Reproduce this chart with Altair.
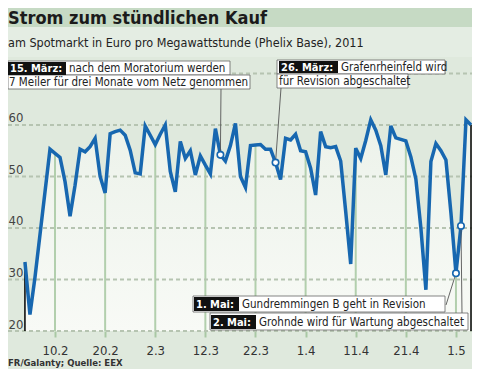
import altair as alt
import pandas as pd

# ---------------- data ----------------
# day 0 = 4. Februar 2011, daily Phelix Base prices (EUR/MWh)
days = list(range(90))
prices = [33.4, 23.2, 30.4, 38.7, 47.0, 55.3, 54.5, 53.7, 49.0, 42.3,
          48.3, 55.3, 54.8, 55.8, 57.4, 50.0, 46.8, 58.3, 58.7, 59.0,
          58.0, 55.1, 50.7, 50.5, 59.8, 58.0, 56.2, 58.2, 60.0, 51.0,
          47.0, 56.8, 53.5, 55.0, 50.3, 54.0, 52.2, 50.5, 59.3, 54.2,
          53.0, 56.0, 60.3, 50.0, 47.9, 56.0, 56.1, 56.2, 55.3, 55.3,
          52.7, 49.4, 57.4, 57.1, 58.2, 55.0, 54.8, 51.6, 46.4, 58.7,
          55.8, 55.6, 55.8, 53.0, 43.2, 33.0, 55.5, 53.5, 57.0, 61.0,
          59.0, 56.0, 50.3, 59.8, 57.5, 57.2, 56.9, 53.8, 49.5, 40.0,
          28.0, 52.9, 56.4, 55.0, 53.2, 42.9, 31.2, 40.4, 61.0, 60.0]
tick_days = [6, 16, 26, 36, 46, 56, 66, 76, 86]
tick_labels = ["10.2", "20.2", "2.3", "12.3", "22.3", "1.4", "11.4", "21.4", "1.5"]
y_label_values = [20, 30, 40, 50, 60]
y_grid_values = [20, 30, 40, 50, 60, 70]
event_days = [39, 50, 86, 87]
event_tags = ["15. März:", "26. März:", "1. Mai:", "2. Mai:"]
event_line1 = ["nach dem Moratorium werden", "Grafenrheinfeld wird",
               "Gundremmingen B geht in Revision", "Grohnde wird für Wartung abgeschaltet"]
event_line2 = ["7 Meiler für drei Monate vom Netz genommen", "für Revision abgeschaltet", "", ""]

title_text = "Strom zum stündlichen Kauf"
subtitle_text = "am Spotmarkt in Euro pro Megawattstunde (Phelix Base), 2011"
source_text = "FR/Galanty; Quelle: EEX"

# ---------------- layout / style ----------------
W, H = 464, 274
PAD_B = 38
FONT = "Liberation Sans Narrow, DejaVu Sans Condensed, sans-serif"
BLUE = "#1767b0"
BG = "#dfe9dd"

xs = alt.Scale(domain=[-3.38, 89.2], nice=False, zero=False)
ys = alt.Scale(domain=[20, 73.2], nice=False, zero=False)

df = pd.DataFrame({"day": days, "price": prices})
df_ticks = df[df.day.isin(tick_days)]
df_events = df[df.day.isin(event_days)]
df_edges = df.iloc[[0, -1]]
df_grid = pd.DataFrame({"v": y_grid_values})

label_expr = "[" + ",".join(f"'{t}'" for t in tick_labels) + "][indexof([" + \
    ",".join(str(d) for d in tick_days) + "], datum.value)]"

x_axis = alt.Axis(values=tick_days, labelExpr=label_expr, grid=False, domain=False,
                  ticks=True, tickSize=6, tickColor="#a9c8a4", tickWidth=2,
                  labelPadding=7, labelFont=FONT, labelFontSize=13, labelColor="#333",
                  title=None)
y_axis = alt.Axis(values=y_label_values, grid=False, domain=False, ticks=False, tickSize=0,
                  labelAlign="left", labelBaseline="alphabetic", labelPadding=0,
                  labelOffset=-3, labelFont=FONT, labelFontSize=13, labelColor="#444",
                  title=None)

X = lambda a=None: alt.X("day:Q", scale=xs, axis=a)
Y = lambda a=None: alt.Y("price:Q", scale=ys, axis=a)

def px(field):
    return alt.X(f"{field}:Q", scale=None, axis=None)

def py(field):
    return alt.Y(f"{field}:Q", scale=None, axis=None)

# header bands
bands = pd.DataFrame({"x0": [0, 0], "x1": [W, W], "y0": [-49, -30], "y1": [-30, 0],
                      "c": ["#c6dac4", "#e4ede3"]})
band_layer = alt.Chart(bands).mark_rect().encode(
    x=px("x0"), x2="x1", y=py("y0"), y2="y1", color=alt.Color("c:N", scale=None))

heads = pd.DataFrame({"x": [0, 0, 0], "y": [-33.5, -10, 309],
                      "t": [title_text, subtitle_text, source_text]})
title_layer = alt.Chart(heads.iloc[[0]]).mark_text(
    align="left", baseline="alphabetic", font=FONT, fontSize=18, fontWeight="bold",
    color="#1b1b1b").encode(x=px("x"), y=py("y"), text="t:N")
sub_layer = alt.Chart(heads.iloc[[1]]).mark_text(
    align="left", baseline="alphabetic", font=FONT, fontSize=12.5,
    color="#222").encode(x=px("x"), y=py("y"), text="t:N")
src_layer = alt.Chart(heads.iloc[[2]]).mark_text(
    align="left", baseline="alphabetic", font=FONT, fontSize=9.5, fontWeight="bold",
    color="#333").encode(x=px("x"), y=py("y"), text="t:N")

area = alt.Chart(df).mark_area(
    color=alt.Gradient(gradient="linear",
                       stops=[alt.GradientStop(color="#ecf2ea", offset=0),
                              alt.GradientStop(color="#f8faf6", offset=1)],
                       x1=0, x2=0, y1=0, y2=1)
).encode(x=X(x_axis), y=Y(y_axis), y2=alt.datum(20))

vrules = alt.Chart(df_ticks).mark_rule(color="#b2cfad", strokeWidth=2).encode(
    x=X(), y=Y(), y2=alt.datum(20))

grid = alt.Chart(df_grid).mark_rule(color="#b6c4b1", strokeWidth=2, strokeDash=[4, 3]).encode(
    y=alt.Y("v:Q", scale=ys, axis=None), x=alt.value(0), x2=alt.value(W))

edges = alt.Chart(df_edges).mark_rule(color="black", strokeWidth=1.5).encode(
    x=X(), y=Y(), y2=alt.datum(20))

line = alt.Chart(df).mark_line(color=BLUE, strokeWidth=3.5).encode(x=X(), y=Y())

# pointers from annotation boxes to event points
anchors = [(213, 31), (273, 31), (438, 248), (454, 257)]
pointers = []
for d, (ax, ay) in zip(event_days, anchors):
    pointers.append(alt.Chart(df[df.day == d]).mark_rule(color="#555", strokeWidth=0.9).encode(
        x=X(), y=Y(), x2=alt.value(ax), y2=alt.value(ay)))

points = alt.Chart(df_events).mark_point(
    shape="circle", filled=True, fill="white", stroke=BLUE, strokeWidth=1.6,
    size=42, opacity=1).encode(x=X(), y=Y())

# annotation boxes (one white box per text line)
boxes = pd.DataFrame({
    "x0": [0, 0, 269, 269, 185, 202],
    "x1": [222, 242, 437, 400, 437, 460],
    "y0": [4, 18, 3, 17, 239, 256],
    "y1": [18, 32, 17, 31, 255, 273],
})
box_layer = alt.Chart(boxes).mark_rect(fill="white", stroke="#666", strokeWidth=0.8).encode(
    x=px("x0"), x2="x1", y=py("y0"), y2="y1")

tags = pd.DataFrame({
    "x0": [0, 271, 186, 203], "x1": [58, 330, 231, 248],
    "y0": [5, 4, 240, 258], "y1": [18, 16, 254, 272],
    "tx": [2, 273, 188, 205], "ty": [15, 14, 251, 269],
    "t": event_tags,
})
tag_rects = alt.Chart(tags).mark_rect(color="#111").encode(
    x=px("x0"), x2="x1", y=py("y0"), y2="y1")
tag_text = alt.Chart(tags).mark_text(
    align="left", baseline="alphabetic", font=FONT, fontSize=11, fontWeight="bold",
    color="white").encode(x=px("tx"), y=py("ty"), text="t:N")

body = pd.DataFrame({
    "x": [61, 1, 333, 271, 234, 251],
    "y": [15, 29, 14, 28, 251, 269],
    "t": [event_line1[0], event_line2[0], event_line1[1], event_line2[1],
          event_line1[2], event_line1[3]],
})
body_text = alt.Chart(body).mark_text(
    align="left", baseline="alphabetic", font=FONT, fontSize=11.5,
    color="#222").encode(x=px("x"), y=py("y"), text="t:N")

chart = alt.layer(
    band_layer, title_layer, sub_layer, area, vrules, grid, edges, line,
    *pointers, points, box_layer, tag_rects, tag_text, body_text, src_layer
).resolve_scale(x="independent", y="independent").properties(
    width=W, height=H,
    padding={"left": 0, "right": 0, "top": 49, "bottom": PAD_B},
    autosize=alt.AutoSizeParams(type="none"),
    background=BG,
).configure_view(stroke=None, fill=BG)

chart.save("out.html", embed_options={"renderer": "svg", "actions": False})
